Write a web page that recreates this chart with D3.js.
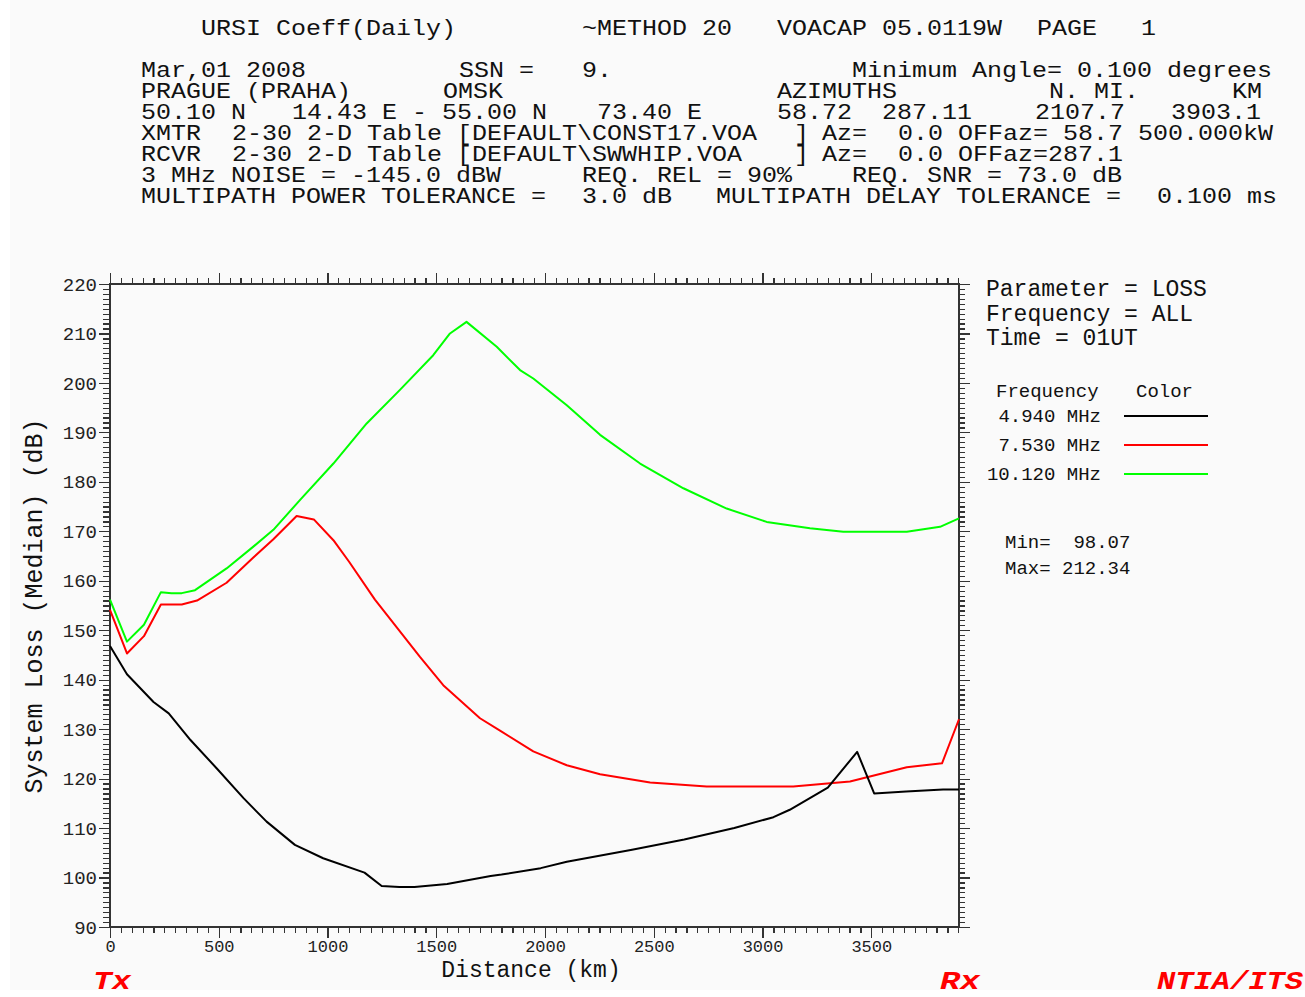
<!DOCTYPE html>
<html lang="en">
<head>
<meta charset="utf-8">
<title>VOACAP System Loss</title>
<script src="https://cdn.jsdelivr.net/npm/d3@7"></script>
<style>
  body { margin: 0; background: #ffffff; }
  text { font-family: "Liberation Mono", "DejaVu Sans Mono", monospace; fill: #111; white-space: pre; }
  .axis path { display: none; }
  .axis line { stroke: #333; stroke-width: 1.2; shape-rendering: crispEdges; }
  .axis text { font-size: 19px; fill: #222; }
  .x-lab text { font-size: 17px; }
  .frame { fill: none; stroke: #333; stroke-width: 1.5; shape-rendering: crispEdges; }
  .curve { fill: none; stroke-width: 2; stroke-linejoin: round; }
  .mark { fill: #ff0000; font-weight: bold; font-style: italic; font-size: 25px; }
</style>
</head>
<body>
<script>
// distance (km) and system loss (dB)
var blackKm   = [0, 78, 200, 270, 370, 490, 615, 720, 850, 980, 1170, 1249, 1330, 1400, 1550, 1750, 1800, 1980, 2100, 2400, 2640, 2870, 3050, 3125, 3300, 3435, 3513, 3660, 3830, 3903];
var blackLoss = [146.8, 141.1, 135.5, 133.2, 127.8, 122.1, 116.0, 111.3, 106.6, 103.9, 101.0, 98.3, 98.07, 98.1, 98.7, 100.3, 100.6, 101.9, 103.2, 105.6, 107.7, 110.0, 112.2, 113.7, 118.2, 125.4, 117.0, 117.4, 117.8, 117.8];

var redKm   = [0, 78, 156, 234, 330, 400, 536, 659, 751, 858, 937, 1027, 1100, 1218, 1425, 1532, 1701, 1793, 1946, 2100, 2253, 2483, 2743, 3141, 3402, 3663, 3825, 3903];
var redLoss = [154.1, 145.3, 148.8, 155.2, 155.2, 156.0, 159.6, 164.7, 168.4, 173.1, 172.4, 168.2, 163.8, 156.2, 144.6, 138.9, 132.2, 129.7, 125.5, 122.7, 120.9, 119.2, 118.4, 118.4, 119.4, 122.3, 123.1, 132.0];

var greenKm   = [0, 78, 156, 234, 283, 330, 391, 536, 659, 751, 873, 1027, 1180, 1333, 1486, 1563, 1639, 1778, 1885, 1946, 2100, 2253, 2437, 2636, 2835, 3019, 3218, 3371, 3663, 3816, 3903];
var greenLoss = [156.2, 147.7, 151.1, 157.7, 157.5, 157.5, 158.1, 162.5, 166.9, 170.3, 176.3, 183.7, 191.8, 198.6, 205.6, 210.0, 212.34, 207.3, 202.6, 200.9, 195.5, 189.5, 183.7, 178.7, 174.6, 171.9, 170.6, 169.9, 169.9, 170.9, 172.6];

var freqLabels = ["4.940 MHz", "7.530 MHz", "10.120 MHz"];
var freqColors = ["#000000", "#ff0000", "#00ff00"];

var headerLines = [
  [["URSI Coeff(Daily)", 201], ["~METHOD 20", 582], ["VOACAP 05.0119W", 777], ["PAGE", 1037], ["1", 1141]],
  [["Mar,01 2008", 141], ["SSN =", 459], ["9.", 582], ["Minimum Angle= 0.100 degrees", 852]],
  [["PRAGUE (PRAHA)", 141], ["OMSK", 443], ["AZIMUTHS", 777], ["N. MI.", 1049], ["KM", 1232]],
  [["50.10 N", 141], ["14.43 E - 55.00 N", 292], ["73.40 E", 597], ["58.72  287.11", 777], ["2107.7", 1035], ["3903.1", 1171]],
  [["XMTR", 141], ["2-30 2-D Table [DEFAULT\\CONST17.VOA", 232], ["]", 794], ["Az=", 822], ["0.0 OFFaz= 58.7 500.000kW", 898]],
  [["RCVR", 141], ["2-30 2-D Table [DEFAULT\\SWWHIP.VOA", 232], ["]", 794], ["Az=", 822], ["0.0 OFFaz=287.1", 898]],
  [["3 MHz NOISE = -145.0 dBW", 141], ["REQ. REL = 90%", 582], ["REQ. SNR = 73.0 dB", 852]],
  [["MULTIPATH POWER TOLERANCE =", 141], ["3.0 dB", 582], ["MULTIPATH DELAY TOLERANCE =", 716], ["0.100 ms", 1157]]
];
var headerY = [35, 77, 98, 119, 140, 161, 182, 203];

var infoLines = ["Parameter = LOSS", "Frequency = ALL", "Time = 01UT"];
var minMax = ["Min=  98.07", "Max= 212.34"];

var w = 1305, h = 997;

var svg = d3.select("body").append("svg")
  .attr("width", w)
  .attr("height", h);

svg.append("rect")
  .attr("x", 10).attr("y", 0)
  .attr("width", w - 10).attr("height", 990)
  .attr("fill", "#fafafa");

// header block: glyphs are wide, so stretch each run to ~15px per char
headerLines.forEach(function (line, i) {
  line.forEach(function (seg) {
    svg.append("text")
      .attr("x", seg[1])
      .attr("y", headerY[i])
      .attr("textLength", seg[0].length * 15)
      .attr("lengthAdjust", "spacingAndGlyphs")
      .style("font-size", "22px")
      .text(seg[0]);
  });
});

var xScale = d3.scaleLinear().domain([0, 3903.1]).range([110, 959]);
var yScale = d3.scaleLinear().domain([90, 220]).range([927, 284]);

var xMinor = d3.range(0, 3901, 50);
var xMajor = d3.range(0, 3901, 500);
var yMinor = d3.range(90, 221, 1);
var yMajor = d3.range(90, 221, 10);

// bottom
svg.append("g").attr("class", "axis")
  .attr("transform", "translate(0,927)")
  .call(d3.axisBottom(xScale).tickValues(xMinor).tickSize(6).tickFormat(""));
svg.append("g").attr("class", "axis x-lab")
  .attr("transform", "translate(0,927)")
  .call(d3.axisBottom(xScale).tickValues(xMajor).tickSize(11).tickPadding(2).tickFormat(d3.format("d")));
// top
svg.append("g").attr("class", "axis")
  .attr("transform", "translate(0,284)")
  .call(d3.axisTop(xScale).tickValues(xMinor).tickSize(6).tickFormat(""));
svg.append("g").attr("class", "axis")
  .attr("transform", "translate(0,284)")
  .call(d3.axisTop(xScale).tickValues(xMajor).tickSize(11).tickFormat(""));
// left
svg.append("g").attr("class", "axis")
  .attr("transform", "translate(110,0)")
  .call(d3.axisLeft(yScale).tickValues(yMinor).tickSize(7).tickFormat(""));
svg.append("g").attr("class", "axis")
  .attr("transform", "translate(110,0)")
  .call(d3.axisLeft(yScale).tickValues(yMajor).tickSize(11).tickPadding(2).tickFormat(d3.format("d")));
// right
svg.append("g").attr("class", "axis")
  .attr("transform", "translate(959,0)")
  .call(d3.axisRight(yScale).tickValues(yMinor).tickSize(6).tickFormat(""));
svg.append("g").attr("class", "axis")
  .attr("transform", "translate(959,0)")
  .call(d3.axisRight(yScale).tickValues(yMajor).tickSize(11).tickFormat(""));

svg.append("rect").attr("class", "frame")
  .attr("x", 110).attr("y", 284)
  .attr("width", 849).attr("height", 643);

var line = d3.line()
  .x(function (d) { return xScale(d[0]); })
  .y(function (d) { return yScale(d[1]); });

var series = [
  { km: greenKm, loss: greenLoss, color: freqColors[2] },
  { km: redKm, loss: redLoss, color: freqColors[1] },
  { km: blackKm, loss: blackLoss, color: freqColors[0] }
];

series.forEach(function (s) {
  svg.append("path")
    .datum(d3.zip(s.km, s.loss))
    .attr("class", "curve")
    .attr("stroke", s.color)
    .attr("d", line);
});

// axis titles
svg.append("text")
  .attr("x", 531).attr("y", 977)
  .attr("text-anchor", "middle")
  .style("font-size", "23px")
  .text("Distance (km)");

svg.append("text")
  .attr("transform", "translate(42,606) rotate(-90)")
  .attr("text-anchor", "middle")
  .style("font-size", "25px")
  .text("System Loss (Median) (dB)");

// right-hand info + legend
infoLines.forEach(function (t, i) {
  svg.append("text")
    .attr("x", 986).attr("y", 296 + i * 24.5)
    .style("font-size", "23px")
    .text(t);
});

svg.append("text").attr("x", 996).attr("y", 397).style("font-size", "19px").text("Frequency");
svg.append("text").attr("x", 1136).attr("y", 397).style("font-size", "19px").text("Color");

var legY = [416, 445, 474];
freqLabels.forEach(function (f, i) {
  svg.append("text")
    .attr("x", 1101).attr("y", legY[i] + 6)
    .attr("text-anchor", "end")
    .style("font-size", "19px")
    .text(f);
  svg.append("line")
    .attr("x1", 1124).attr("x2", 1208)
    .attr("y1", legY[i]).attr("y2", legY[i])
    .attr("stroke", freqColors[i])
    .attr("stroke-width", 2);
});

minMax.forEach(function (t, i) {
  svg.append("text")
    .attr("x", 1005).attr("y", 548 + i * 26)
    .style("font-size", "19px")
    .text(t);
});

svg.append("text").attr("class", "mark").attr("x", 93).attr("y", 989)
  .attr("textLength", 38).attr("lengthAdjust", "spacingAndGlyphs").text("Tx");
svg.append("text").attr("class", "mark").attr("x", 940).attr("y", 989)
  .attr("textLength", 40).attr("lengthAdjust", "spacingAndGlyphs").text("Rx");
svg.append("text").attr("class", "mark").attr("x", 1157).attr("y", 989)
  .attr("textLength", 146).attr("lengthAdjust", "spacingAndGlyphs").text("NTIA/ITS");
</script>
</body>
</html>
